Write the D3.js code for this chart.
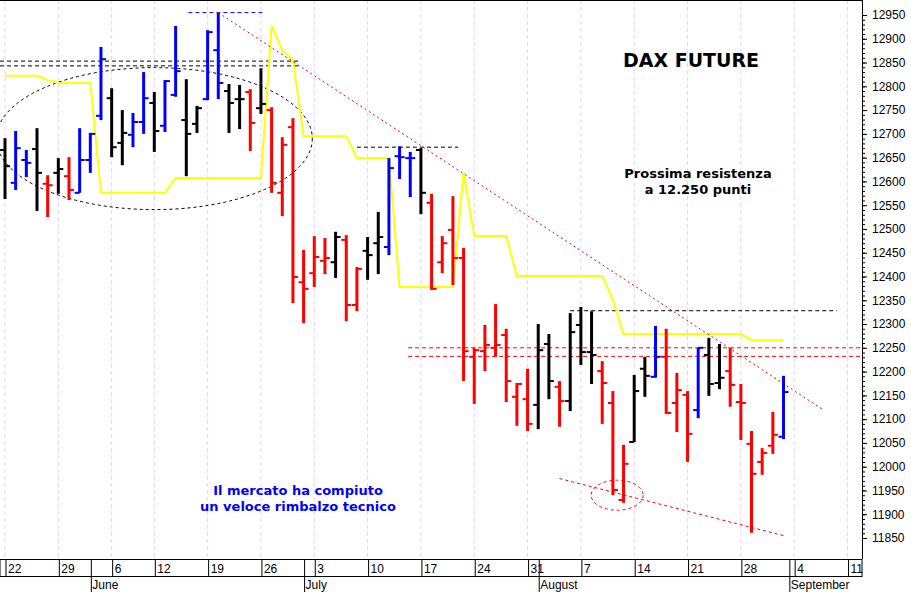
<!DOCTYPE html>
<html><head><meta charset="utf-8">
<script src="https://cdn.jsdelivr.net/npm/d3@7"></script>
<style>body{margin:0;background:#fff}svg{display:block}</style>
</head><body><svg id="c" width="911" height="592"></svg>
<script>
// Trading-day index 0 = 22 May 2017 (5 June skipped)
const highs=[12691,12706,12666,12712,12613,12649,12651,12712,12702,12883,12796,12750,12744,12830,12788,12813,12927,12815,12759,12918,12954,12805,12803,12794,12838,12756,12693,12733,12456,12485,12481,12494,12487,12420,12483,12536,12649,12674,12662,12670,12574,12485,12569,12460,12250,12298,12342,12290,12176,12206,12300,12279,12180,12323,12336,12327,12222,12159,12046,12193,12231,12296,12290,12197,12159,12250,12271,12258,12250,12174,12075,12039,12115,12191];
const lows=[12563,12582,12609,12538,12525,12574,12561,12576,12618,12729,12651,12634,12672,12700,12662,12704,12778,12611,12702,12771,12773,12702,12710,12664,12742,12576,12527,12344,12302,12378,12405,12397,12306,12327,12393,12405,12445,12605,12567,12531,12372,12407,12382,12180,12132,12201,12231,12136,12086,12075,12079,12142,12084,12117,12214,12174,12090,11940,11924,12052,12147,12187,12111,12073,12010,12102,12149,12163,12126,12056,11861,11983,12027,12058];
const opens=[12666,12597,12645,12668,12595,12618,12611,12576,12645,12738,12775,12681,12698,12725,12765,12717,12782,12729,12721,12773,12876,12790,12773,12788,12754,12750,12576,12714,12388,12407,12433,12430,12477,12340,12454,12470,12462,12653,12649,12666,12555,12430,12498,12439,12231,12243,12250,12277,12147,12142,12130,12258,12168,12138,12298,12241,12201,12134,11930,12052,12206,12189,12231,12134,12151,12119,12235,12176,12201,12136,12048,12010,12044,12063];
const closes=[12632,12670,12639,12618,12592,12626,12582,12645,12700,12857,12672,12702,12725,12775,12706,12811,12832,12700,12754,12914,12807,12765,12773,12723,12763,12597,12677,12399,12374,12441,12439,12483,12340,12416,12445,12483,12628,12651,12649,12576,12374,12470,12439,12243,12245,12256,12256,12180,12174,12090,12245,12180,12138,12283,12241,12235,12176,11951,12006,12159,12191,12231,12113,12161,12069,12250,12174,12187,12172,12134,11985,12029,12067,12157];
const signal="kbbkrkrbbbkkbbkbbkkbbkkrkrrrrrrkrrkkbbbkrrrrrrrrrrkkrkkkrrrkkbrrrbkkrrrrrb";
const trendLevel=[12822,12822,12822,12822,12813,12807,12807,12807,12807,12576,12576,12576,12576,12576,12576,12576,12607,12607,12607,12607,12607,12607,12607,12607,12607,12927,12876,12855,12695,12695,12695,12695,12695,12649,12649,12649,12649,12378,12378,12378,12378,12378,12378,12618,12485,12485,12485,12485,12401,12401,12401,12401,12401,12401,12401,12401,12401,12351,12279,12279,12279,12279,12279,12279,12279,12279,12279,12279,12279,12279,12266,12266,12266,12266];
const weekTicks=[{i:0,l:"22"},{i:5,l:"29"},{i:10,l:"6"},{i:14,l:"12"},{i:19,l:"19"},{i:24,l:"26"},{i:29,l:"3"},{i:34,l:"10"},{i:39,l:"17"},{i:44,l:"24"},{i:49,l:"31"},{i:54,l:"7"},{i:59,l:"14"},{i:64,l:"21"},{i:69,l:"28"},{i:74,l:"4"},{i:79,l:"11"}];
const months=[{i:8,l:"June"},{i:28,l:"July"},{i:50,l:"August"},{i:73.5,l:"September"}];
const yTicks=d3.range(11850,12951,50);

const svg=d3.select("#c");
const x=d3.scaleLinear().domain([0,79]).range([5,847.5]);
const y=d3.scaleLinear().domain([11850,12950]).range([538,15]);
const R=862;
const col={k:"#000",b:"#0000ff",r:"#ff0000"};

svg.append("g").selectAll("line").data(weekTicks).join("line")
 .attr("x1",d=>x(d.i)).attr("x2",d=>x(d.i)).attr("y1",0).attr("y2",558)
 .attr("stroke","#d8d8f4").attr("stroke-dasharray","4,3");

svg.append("line").attr("x1",0).attr("x2",R).attr("y1",0.5).attr("y2",0.5).attr("stroke","#000");
svg.append("line").attr("x1",R+.5).attr("x2",R+.5).attr("y1",0).attr("y2",559).attr("stroke","#000");

const ax=svg.append("g").attr("transform",`translate(${R},0)`).call(d3.axisRight(y).tickValues(yTicks).tickSize(5).tickFormat(d3.format("d")));
ax.select(".domain").remove();
ax.selectAll("text").attr("font-family","Liberation Sans, Arial").attr("font-size",12).attr("fill","#000").attr("dx",2);
svg.append("g").attr("transform",`translate(${R},0)`).call(d3.axisRight(y).ticks(120).tickSize(3).tickFormat(""))
 .select(".domain").remove();

svg.append("rect").attr("x",0).attr("y",559.5).attr("width",R).attr("height",17).attr("fill","#fff").attr("stroke","#000");
svg.append("line").attr("x1",0).attr("x2",R).attr("y1",576.5).attr("y2",576.5).attr("stroke","#000");
const wt=svg.append("g");
weekTicks.forEach(d=>{
 const xx=x(d.i)+1;
 wt.append("line").attr("x1",xx).attr("x2",xx).attr("y1",560).attr("y2",576).attr("stroke","#000");
 wt.append("text").attr("x",xx+2).attr("y",573).text(d.l).attr("font-family","Liberation Sans, Arial").attr("font-size",12);
});
months.forEach(d=>{
 const xx=x(d.i)+1;
 wt.append("line").attr("x1",xx).attr("x2",xx).attr("y1",560).attr("y2",592).attr("stroke","#000");
 wt.append("text").attr("x",xx+1).attr("y",589).text(d.l).attr("font-family","Liberation Sans, Arial").attr("font-size",12);
});

svg.append("ellipse").attr("cx",x(14)).attr("cy",y(12690)).attr("rx",158).attr("ry",71)
 .attr("fill","none").attr("stroke","#000").attr("stroke-dasharray","3,3");
const hl=(v,a,b,c)=>svg.append("line").attr("x1",a).attr("x2",b).attr("y1",y(v)).attr("y2",y(v)).attr("stroke",c).attr("stroke-dasharray","4,3");
hl(12853,0,x(27.5),"#000");hl(12843,0,x(27.5),"#000");
hl(12955,x(17.2),x(24.2),"#0000ff");
hl(12672,x(33),x(42.5),"#000");
hl(12328,x(53),x(78),"#000");
hl(12250,x(37.8),R,"#ff0000");hl(12232,x(37.8),R,"#ff0000");

svg.append("path").datum(trendLevel).attr("fill","none").attr("stroke","#ffff00").attr("stroke-width",2)
 .attr("d",d3.line().x((d,i)=>x(i)).y(d=>y(d)));

svg.append("line").attr("x1",x(20)).attr("y1",y(12955)).attr("x2",x(76.7)).attr("y2",y(12120))
 .attr("stroke","#ff0000").attr("stroke-dasharray","2,3");
svg.append("line").attr("x1",x(52)).attr("y1",y(11975)).attr("x2",x(73)).attr("y2",y(11855))
 .attr("stroke","#ff0000").attr("stroke-dasharray","3,3");
svg.append("ellipse").attr("cx",x(57.4)).attr("cy",y(11940)).attr("rx",26).attr("ry",15)
 .attr("fill","none").attr("stroke","#ff0000").attr("stroke-dasharray","3,3");

const bars=svg.append("g").selectAll("g").data(highs.map((h,i)=>({i,h,l:lows[i],o:opens[i],c:closes[i],s:signal[i]}))).join("g")
 .attr("stroke",d=>col[d.s]).attr("stroke-width",3);
bars.append("line").attr("x1",d=>x(d.i)).attr("x2",d=>x(d.i)).attr("y1",d=>y(d.h)).attr("y2",d=>y(d.l));
bars.append("line").attr("x1",d=>x(d.i)-5).attr("x2",d=>x(d.i)).attr("y1",d=>y(d.o)).attr("y2",d=>y(d.o)).attr("stroke-width",2);
bars.append("line").attr("x1",d=>x(d.i)).attr("x2",d=>x(d.i)+5).attr("y1",d=>y(d.c)).attr("y2",d=>y(d.c)).attr("stroke-width",2);

const tx=(t,xx,yy,sz,c)=>svg.append("text").attr("x",xx).attr("y",yy).attr("text-anchor","middle").text(t)
 .attr("font-family","DejaVu Sans, Verdana").attr("font-weight","bold").attr("font-size",sz).attr("fill",c);
tx("DAX FUTURE",691,67,19,"#000");
tx("Prossima resistenza",698,178,13,"#000");
tx("a 12.250 punti",698,194,13,"#000");
tx("Il mercato ha compiuto",298,495,13,"#0000ff");
tx("un veloce rimbalzo tecnico",298,511,13,"#0000ff");
</script></body></html>
